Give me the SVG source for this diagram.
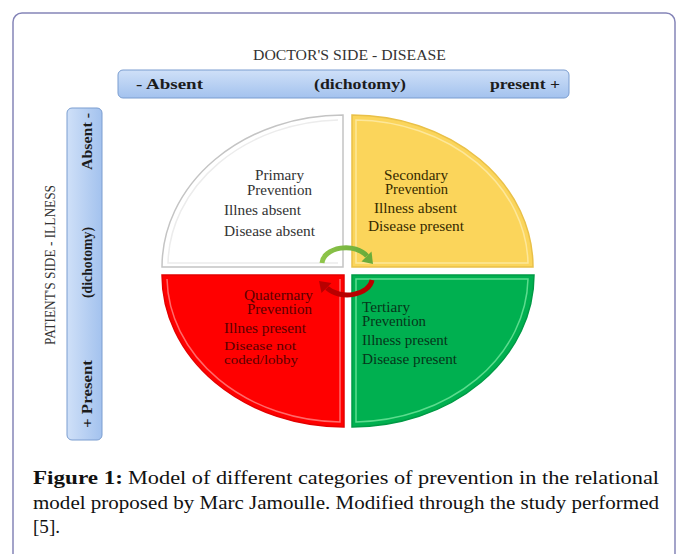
<svg xmlns="http://www.w3.org/2000/svg" width="679" height="554" viewBox="0 0 679 554">
<defs>
<linearGradient id="hbar" x1="0" y1="0" x2="0" y2="1">
<stop offset="0" stop-color="#cfe0f8"/><stop offset="1" stop-color="#a3c2ee"/>
</linearGradient>
<linearGradient id="vbar" x1="0" y1="0" x2="1" y2="0">
<stop offset="0" stop-color="#cfe0f8"/><stop offset="1" stop-color="#a3c2ee"/>
</linearGradient>
<linearGradient id="gArrow" x1="0" y1="0" x2="1" y2="0">
<stop offset="0" stop-color="#8fc54a"/><stop offset="1" stop-color="#6aac3a"/>
</linearGradient>
<style>
.frame{fill:#fff;stroke:#8585b8;stroke-width:1.5}
.bar{stroke:#7a9dd0;stroke-width:1}
.t{font-family:"Liberation Serif","Times New Roman",serif}
.bl{font-weight:bold;font-size:15px;fill:#1c1c1c}
.hd{font-size:14px;fill:#333}
.q{font-size:14px}
.cap{font-size:19px;fill:#111}
</style>
</defs>
<rect class="frame" x="13" y="13" width="662" height="570" rx="9"/>

<g id="doctor-axis">
<text class="t hd" x="253" y="60" textLength="193" lengthAdjust="spacingAndGlyphs">DOCTOR'S SIDE - DISEASE</text>
<rect class="bar" x="118" y="70" width="451" height="28" rx="5" fill="url(#hbar)"/>
<text class="t bl" x="136" y="89" textLength="67" lengthAdjust="spacingAndGlyphs">- Absent</text>
<text class="t bl" x="314" y="89" textLength="92" lengthAdjust="spacingAndGlyphs">(dichotomy)</text>
<text class="t bl" x="490" y="89" textLength="70" lengthAdjust="spacingAndGlyphs">present +</text>
</g>

<g id="patient-axis">
<text class="t hd" transform="translate(55,345) rotate(-90)" textLength="160" lengthAdjust="spacingAndGlyphs">PATIENT'S SIDE - ILLNESS</text>
<rect class="bar" x="67" y="108" width="35" height="332" rx="5" fill="url(#vbar)"/>
<text class="t bl" transform="translate(92,170) rotate(-90)" textLength="57" lengthAdjust="spacingAndGlyphs">Absent -</text>
<text class="t bl" transform="translate(92,298) rotate(-90)" textLength="71" lengthAdjust="spacingAndGlyphs">(dichotomy)</text>
<text class="t bl" transform="translate(92,428) rotate(-90)" textLength="68" lengthAdjust="spacingAndGlyphs">+ Present</text>
</g>

<g id="primary">
<path d="M343,267 L162,267 A181,152 0 0 1 343,115 Z" fill="#fff" stroke="#c4c4c4" stroke-width="1.5"/>
<path d="M338,263 L168,263 A175,146 0 0 1 338,120" fill="none" stroke="#ececec" stroke-width="1.5"/>
<g class="t q" fill="#333">
<text x="255" y="180" textLength="49" lengthAdjust="spacingAndGlyphs">Primary</text>
<text x="247" y="195" textLength="65" lengthAdjust="spacingAndGlyphs">Prevention</text>
<text x="224" y="215" textLength="77" lengthAdjust="spacingAndGlyphs">Illnes absent</text>
<text x="224" y="236" textLength="91" lengthAdjust="spacingAndGlyphs">Disease absent</text>
</g>
</g>

<g id="secondary">
<path d="M352,267 L352,115 A181,152 0 0 1 533,267 Z" fill="#fbd55b" stroke="#e9c048" stroke-width="1.5"/>
<path d="M356,263 L356,120 A175,146 0 0 1 528,263 Z" fill="none" stroke="#fde79a" stroke-width="1.5"/>
<g class="t q" fill="#352a00">
<text x="384" y="180" textLength="64" lengthAdjust="spacingAndGlyphs">Secondary</text>
<text x="385" y="194" textLength="63" lengthAdjust="spacingAndGlyphs">Prevention</text>
<text x="374" y="213" textLength="83" lengthAdjust="spacingAndGlyphs">Illness absent</text>
<text x="368" y="231" textLength="96" lengthAdjust="spacingAndGlyphs">Disease present</text>
</g>
</g>

<g id="quaternary">
<path d="M344,275 L344,427 A182,152 0 0 1 162,275 Z" fill="#ff0000" stroke="#e40000" stroke-width="1.5"/>
<path d="M340,279 L340,422 A176,146 0 0 1 167,279" fill="none" stroke="#ff6a6a" stroke-width="1.5"/>
<g class="t q" fill="#5a0000">
<text x="244" y="300" textLength="69" lengthAdjust="spacingAndGlyphs">Quaternary</text>
<text x="247" y="314" textLength="65" lengthAdjust="spacingAndGlyphs">Prevention</text>
<text x="224" y="333" textLength="82" lengthAdjust="spacingAndGlyphs">Illnes present</text>
<text x="224" y="350" font-size="13" textLength="72" lengthAdjust="spacingAndGlyphs">Disease not</text>
<text x="224" y="364" font-size="13" textLength="74" lengthAdjust="spacingAndGlyphs">coded/lobby</text>
</g>
</g>

<g id="tertiary">
<path d="M352,275 L534,275 A182,152 0 0 1 352,427 Z" fill="#00b050" stroke="#009a45" stroke-width="1.5"/>
<path d="M356,279 L528,279 A176,146 0 0 1 356,422 Z" fill="none" stroke="#5cdc8e" stroke-width="1.5"/>
<g class="t q" fill="#06361a">
<text x="362" y="312" textLength="48" lengthAdjust="spacingAndGlyphs">Tertiary</text>
<text x="362" y="326" textLength="64" lengthAdjust="spacingAndGlyphs">Prevention</text>
<text x="362" y="345" textLength="86" lengthAdjust="spacingAndGlyphs">Illness present</text>
<text x="362" y="364" textLength="95" lengthAdjust="spacingAndGlyphs">Disease present</text>
</g>
</g>

<g id="connectors">
<path d="M322,263 A24,16 0 0 1 367,256" fill="none" stroke="url(#gArrow)" stroke-width="5"/>
<polygon points="373,264 371.5,251.5 361.5,261.5" fill="#6aac3a"/>
<path d="M372,280 A25,17 0 0 1 327,288" fill="none" stroke="#b80000" stroke-width="5"/>
<polygon points="319,281 331.5,283 321.5,293" fill="#b80000"/>
</g>

<g id="caption" class="t cap">
<text x="33" y="484" font-weight="bold" textLength="90" lengthAdjust="spacingAndGlyphs">Figure 1:</text>
<text x="128" y="484" textLength="531" lengthAdjust="spacingAndGlyphs">Model of different categories of prevention in the relational</text>
<text x="33" y="509" textLength="626" lengthAdjust="spacingAndGlyphs">model proposed by Marc Jamoulle. Modified through the study performed</text>
<text x="33" y="533" textLength="27" lengthAdjust="spacingAndGlyphs">[5].</text>
</g>
</svg>
